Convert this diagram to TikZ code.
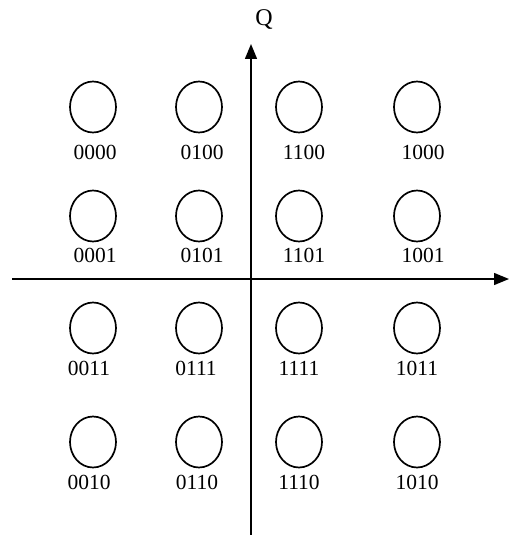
\documentclass[tikz,border=0pt]{standalone}
\usepackage{fontspec}
\setmainfont{Liberation Serif}
\usetikzlibrary{shapes.geometric,arrows.meta}
\begin{document}
\begin{tikzpicture}[x=1pt,y=-1pt,
  pt/.style={ellipse,draw,line width=1.7pt,minimum width=46pt,minimum height=51pt,inner sep=0pt},
  lbl/.style={font=\fontsize{21.5}{23}\selectfont,inner sep=0pt},
  axis/.style={line width=1.4pt,-{Triangle[length=15pt,width=12pt]}}]
\useasboundingbox (0,0) rectangle (509,535);
% axes
\coordinate (ybot) at (251,535);
\coordinate (ytop) at (251,44);
\coordinate (xl) at (12,279);
\coordinate (xr) at (509,279);
\draw[axis] (ybot) -- (ytop);
\draw[axis] (xl) -- (xr);
\node[font=\fontsize{24}{26}\selectfont,inner sep=0pt] (Q) at (264,20) {Q};
% row 1
\node[pt] (p0000) at (93,107) {};
\node[pt] (p0100) at (199,107) {};
\node[pt] (p1100) at (299,107) {};
\node[pt] (p1000) at (417,107) {};
\node[lbl] (l0000) at (95,152) {0000};
\node[lbl] (l0100) at (202,152) {0100};
\node[lbl] (l1100) at (304,152) {1100};
\node[lbl] (l1000) at (423,152) {1000};
% row 2
\node[pt] (p0001) at (93,216) {};
\node[pt] (p0101) at (199,216) {};
\node[pt] (p1101) at (299,216) {};
\node[pt] (p1001) at (417,216) {};
\node[lbl] (l0001) at (95,255) {0001};
\node[lbl] (l0101) at (202,255) {0101};
\node[lbl] (l1101) at (304,255) {1101};
\node[lbl] (l1001) at (423,255) {1001};
% row 3
\node[pt] (p0011) at (93,328) {};
\node[pt] (p0111) at (199,328) {};
\node[pt] (p1111) at (299,328) {};
\node[pt] (p1011) at (417,328) {};
\node[lbl] (l0011) at (89,368) {0011};
\node[lbl] (l0111) at (196,368) {0111};
\node[lbl] (l1111) at (299,368) {1111};
\node[lbl] (l1011) at (417,368) {1011};
% row 4
\node[pt] (p0010) at (93,442) {};
\node[pt] (p0110) at (199,442) {};
\node[pt] (p1110) at (299,442) {};
\node[pt] (p1010) at (417,442) {};
\node[lbl] (l0010) at (89,482) {0010};
\node[lbl] (l0110) at (197,482) {0110};
\node[lbl] (l1110) at (299,482) {1110};
\node[lbl] (l1010) at (417,482) {1010};
\end{tikzpicture}
\end{document}
